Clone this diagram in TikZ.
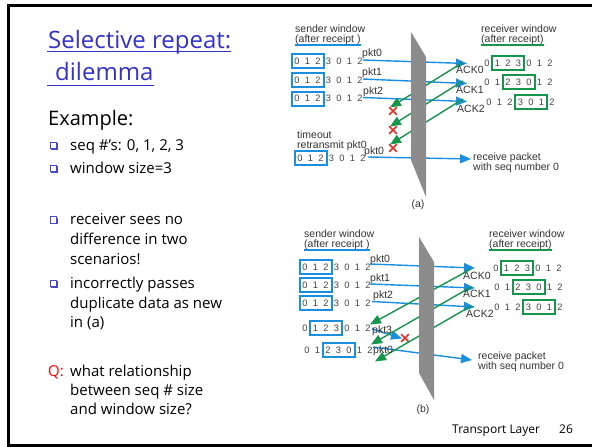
\documentclass[tikz,border=0pt]{standalone}
\usepackage{fontspec}
\setmainfont{Open Sans}
\newfontfamily\diag{Liberation Sans}
\usetikzlibrary{arrows.meta,shapes.misc,calc}

\definecolor{titleblue}{HTML}{3333CC}
\definecolor{pktblue}{HTML}{1A8FE0}
\definecolor{ackgreen}{HTML}{15964A}
\definecolor{plategray}{HTML}{8C8C8C}
\definecolor{lossred}{HTML}{E62E24}
\definecolor{digitgray}{HTML}{444444}
\definecolor{bulletblue}{HTML}{4848C8}

\tikzset{
  digit/.style={font=\diag\fontsize{9.3}{11}\selectfont, text=digitgray, inner sep=0pt, anchor=center},
  lbl/.style={font=\diag\fontsize{10.5}{12}\selectfont, text=black!80, inner sep=0pt, anchor=base west},
  sbox/.style={draw=pktblue, line width=2pt},
  rbox/.style={draw=ackgreen, line width=2pt},
  pkt/.style={draw=pktblue, line width=1.4pt, -{Triangle[length=11pt,width=9pt]}},
  ack/.style={draw=ackgreen, line width=1.4pt, -{Triangle[length=11pt,width=9pt]}},
  plate/.style={fill=plategray, draw=none},
  loss/.style={cross out, draw=lossred, line width=1.6pt, minimum size=6pt, inner sep=0pt},
  body/.style={font=\fontsize{15}{18}\selectfont, inner sep=0pt, anchor=base west},
  bulletbox/.style={draw=bulletblue, line width=0.9pt},
}

% one row of sequence numbers 0 1 2 3 0 1 2 with a window box over three slots
% #1 name, #2 x of first digit, #3 y, #4 first slot in the window, #5 box style
\newcommand\seqrow[5]{%
  \foreach \d [count=\k] in {0,1,2,3,0,1,2}
    \node[digit] (#1-\k) at ({#2+(\k-1)*10.5},#3) {\d};
  \draw[#5] ({#2+(#4-1)*10.5-5.5},{#3-7}) rectangle ({#2+(#4+1)*10.5+5.5},{#3+7});
}

% list bullet: small outlined square with a shadow
\newcommand\listbullet[2]{%
  \draw[bulletbox] (#1,{#2-6.5}) rectangle ({#1+6.5},#2);
  \draw[bulletblue, line width=1.2pt] ({#1+7.3},{#2-5.5}) -- ({#1+7.3},{#2+0.8}) -- ({#1+1},{#2+0.8});
}

\begin{document}
\begin{tikzpicture}[x=1pt,y=-1pt]
\useasboundingbox (0,0) rectangle (592,447);
\fill[white] (0,0) rectangle (592,447);

% slide frame
\draw[line width=3pt] (592,5) -- (8,5) -- (8,445) -- (592,445);

% ---------- title ----------
\node[anchor=base west, inner sep=0pt, text=titleblue, font=\fontsize{24}{28}\selectfont] (t1) at (48,48) {Selective repeat:};
\node[anchor=base west, inner sep=0pt, text=titleblue, font=\fontsize{24}{28}\selectfont] (t2) at (55,80) {dilemma};
\draw[titleblue, line width=1.3pt] ($(t1.base west)+(-1,3.5)$) -- ($(t1.base east)+(0,3.5)$);
\draw[titleblue, line width=1.3pt] ($(t1.base west |- t2.base)+(-1,5.5)$) -- ($(t2.base east)+(0,5.5)$);

% ---------- left column ----------
\node[anchor=base west, inner sep=0pt, font=\fontsize{20}{24}\selectfont] (ex) at (48,125) {Example:};
\listbullet{50}{148.5}
\node[body] (b1) at (70,150) {seq \#'s: 0, 1, 2, 3};
\listbullet{50}{171.5}
\node[body] (b2) at (70,173) {window size=3};

\listbullet{50}{223}
\node[body] (b3a) at (70,224.5) {receiver sees no};
\node[body] (b3b) at (70,244.5) {difference in two};
\node[body] (b3c) at (70,264) {scenarios!};
\listbullet{50}{286.5}
\node[body] (b4a) at (70,288) {incorrectly passes};
\node[body] (b4b) at (70,308) {duplicate data as new};
\node[body] (b4c) at (70,327.5) {in (a)};

\node[body, text=red] (qq) at (48,376) {Q:};
\node[body] (q1) at (70,376) {what relationship};
\node[body] (q2) at (70,395.5) {between seq \# size};
\node[body] (q3) at (70,414.5) {and window size?};

% footer
\node[anchor=base west, inner sep=0pt, font=\fontsize{12}{14}\selectfont] (foot) at (452,433) {Transport Layer};
\node[anchor=base west, inner sep=0pt, font=\fontsize{12}{14}\selectfont] (pg) at (559,433) {26};

% ================= scenario (a) =================
\node[lbl] (asw1) at (295,32) {sender window};
\node[lbl] (asw2) at (295,42) {(after receipt )};
\draw[pktblue, line width=1.5pt] ($(asw2.base west)+(0,3)$) -- ($(asw2.base east)+(0,3)$);
\node[lbl] (arw1) at (481,32) {receiver window};
\node[lbl] (arw2) at (481,42) {(after receipt)};
\draw[ackgreen, line width=1.5pt] ($(arw2.base west)+(0,3)$) -- ($(arw2.base east)+(0,3)$);

\seqrow{as1}{297}{61}{1}{sbox}
\seqrow{as2}{297}{80}{1}{sbox}
\seqrow{as3}{297}{98.5}{1}{sbox}
\seqrow{as4}{300}{158}{1}{sbox}

\seqrow{ar1}{487}{63}{2}{rbox}
\seqrow{ar2}{487}{82}{3}{rbox}
\seqrow{ar3}{489}{102}{4}{rbox}

\node[lbl] (ato1) at (297,138) {timeout};
\node[lbl] (ato2) at (297,148) {retransmit pkt0};

% data packets
\coordinate (ap0s) at (363,60);  \coordinate (ap0e) at (467,63.5);
\coordinate (ap1s) at (363,79);  \coordinate (ap1e) at (467,83.5);
\coordinate (ap2s) at (363,97.5);\coordinate (ap2e) at (467,101.5);
\coordinate (ap3s) at (368,157); \coordinate (ap3e) at (471,159);
\draw[pkt] (ap0s) -- (ap0e);
\draw[pkt] (ap1s) -- (ap1e);
\draw[pkt] (ap2s) -- (ap2e);
\draw[pkt] (ap3s) -- (ap3e);
\node[lbl] (apl0) at (362,56) {pkt0};
\node[lbl] (apl1) at (362,75) {pkt1};
\node[lbl] (apl2) at (363,94) {pkt2};
\node[lbl] (apl3) at (364,154) {pkt0};

% acknowledgements, all lost
\coordinate (aa0s) at (462,63);  \coordinate (aa0e) at (390,107.5);
\coordinate (aa1s) at (463,81);  \coordinate (aa1e) at (390,126.5);
\coordinate (aa2s) at (463,99);  \coordinate (aa2e) at (390,144.5);
\draw[ack] (aa0s) -- (aa0e);
\draw[ack] (aa1s) -- (aa1e);
\draw[ack] (aa2s) -- (aa2e);
\node[lbl] (aal0) at (456,73) {ACK0};
\node[lbl] (aal1) at (456,93) {ACK1};
\node[lbl] (aal2) at (457,112) {ACK2};
\node[loss] (ax0) at (393,111) {};
\node[loss] (ax1) at (393,130) {};
\node[loss] (ax2) at (393,148) {};

% channel
\fill[plate] (411,32) -- (426,57) -- (426,197) -- (411,160) -- cycle;

\node[lbl] (arc1) at (473,160) {receive packet};
\node[lbl] (arc2) at (473,170) {with seq number 0};
\node[lbl, anchor=center] (acap) at (418,205) {(a)};

% ================= scenario (b) =================
\node[lbl] (bsw1) at (304,237) {sender window};
\node[lbl] (bsw2) at (304,247) {(after receipt )};
\draw[pktblue, line width=1.5pt] ($(bsw2.base west)+(0,3)$) -- ($(bsw2.base east)+(0,3)$);
\node[lbl] (brw1) at (489,237) {receiver window};
\node[lbl] (brw2) at (489,247) {(after receipt)};
\draw[ackgreen, line width=1.5pt] ($(brw2.base west)+(0,3)$) -- ($(brw2.base east)+(0,3)$);

\seqrow{bs1}{305}{267}{1}{sbox}
\seqrow{bs2}{305}{285}{1}{sbox}
\seqrow{bs3}{305}{303}{1}{sbox}
\seqrow{bs4}{305}{328}{2}{sbox}
\seqrow{bs5}{307}{350}{3}{sbox}

\seqrow{br1}{496}{268}{2}{rbox}
\seqrow{br2}{497}{287}{3}{rbox}
\seqrow{br3}{497}{307}{4}{rbox}

% data packets
\coordinate (bp0s) at (370,264); \coordinate (bp0e) at (475,268);
\coordinate (bp1s) at (370,284); \coordinate (bp1e) at (475,288);
\coordinate (bp2s) at (372,301.5); \coordinate (bp2e) at (475,307);
\coordinate (bp3s) at (372,329); \coordinate (bp3e) at (402,338.5);
\coordinate (bp4s) at (373,347); \coordinate (bp4e) at (472,360);
\draw[pkt] (bp0s) -- (bp0e);
\draw[pkt] (bp1s) -- (bp1e);
\draw[pkt] (bp2s) -- (bp2e);
\draw[pkt] (bp3s) -- (bp3e);
\draw[pkt] (bp4s) -- (bp4e);
\node[loss] (bx3) at (405,338) {};

% acknowledgements, all delivered
\coordinate (ba0s) at (471,269); \coordinate (ba0e) at (370,324.5);
\coordinate (ba1s) at (471,287); \coordinate (ba1e) at (371,344.5);
\coordinate (ba2s) at (471,306); \coordinate (ba2e) at (375,361.5);
\draw[ack] (ba0s) -- (ba0e);
\draw[ack] (ba1s) -- (ba1e);
\draw[ack] (ba2s) -- (ba2e);
\node[lbl] (bal0) at (463,279) {ACK0};
\node[lbl] (bal1) at (463,297) {ACK1};
\node[lbl] (bal2) at (466,317) {ACK2};

% channel
\fill[plate] (419,237) -- (434,262) -- (434,400) -- (419,373) -- cycle;

\node[lbl] (bpl0) at (370,262) {pkt0};
\node[lbl] (bpl1) at (370,281) {pkt1};
\node[lbl] (bpl2) at (373,298) {pkt2};
\node[lbl] (bpl3) at (372,333) {pkt3};
\node[lbl] (bpl4) at (373,353) {pkt0};

\node[lbl] (brc1) at (478,359) {receive packet};
\node[lbl] (brc2) at (478,369) {with seq number 0};
\node[lbl, anchor=center] (bcap) at (423,410) {(b)};
\end{tikzpicture}
\end{document}
